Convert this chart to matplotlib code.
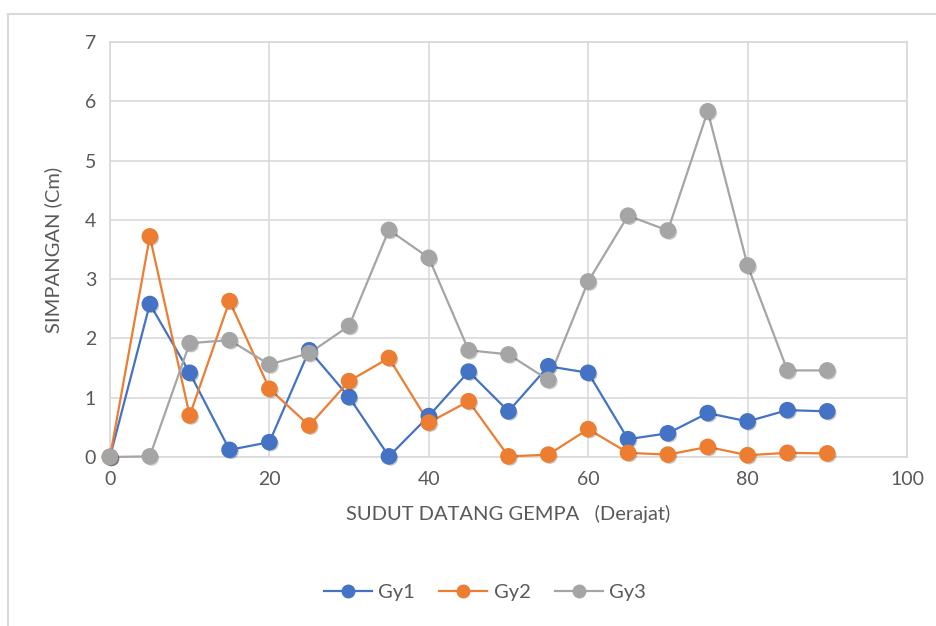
import matplotlib.pyplot as plt
import matplotlib.patheffects as pe
from matplotlib.lines import Line2D

# sudut datang gempa (derajat)
sudut = [0, 5, 10, 15, 20, 25, 30, 35, 40, 45, 50, 55, 60, 65, 70, 75, 80, 85, 90]

# simpangan (cm)
gy1 = [0, 2.58, 1.42, 0.12, 0.25, 1.80, 1.01, 0.01, 0.69, 1.44, 0.77, 1.53, 1.42,
       0.30, 0.40, 0.74, 0.60, 0.79, 0.77]
gy2 = [0, 3.72, 0.70, 2.63, 1.15, 0.53, 1.28, 1.67, 0.58, 0.94, 0.01, 0.04, 0.47,
       0.07, 0.04, 0.17, 0.03, 0.07, 0.06]
gy3 = [0, 0.01, 1.92, 1.97, 1.56, 1.75, 2.21, 3.83, 3.36, 1.80, 1.73, 1.30, 2.96,
       4.07, 3.82, 5.83, 3.23, 1.46, 1.46]

labels = ['Gy1', 'Gy2', 'Gy3']
colors = ['#4472C4', '#ED7D31', '#A5A5A5']

plt.rcParams['font.family'] = ['Lato', 'DejaVu Sans']
text_color = '#595959'

fig = plt.figure(figsize=(9.36, 6.26), dpi=100)
ax = fig.add_axes([0.1175, 0.270, 0.8515, 0.663])

# soft drop shadow on the markers only
shadow = [pe.SimplePatchShadow(offset=(1.2, -1.2), shadow_rgbFace='black', alpha=0.22),
          pe.Normal()]

for data, lab, col in zip([gy1, gy2, gy3], labels, colors):
    ax.plot(sudut, data, color=col, lw=1.6, zorder=3, clip_on=False)
    ax.scatter(sudut, data, s=120, color=col, zorder=4, clip_on=False,
               path_effects=shadow)

ax.set_xlim(0, 100)
ax.set_ylim(0, 7)
ax.set_xticks(range(0, 101, 20))
ax.set_yticks(range(0, 8))
ax.grid(True, color='#D9D9D9', lw=1.2)
ax.set_axisbelow(True)
for s in ax.spines.values():
    s.set_color('#D9D9D9')
    s.set_linewidth(1.2)
ax.tick_params(length=0, labelsize=14, colors=text_color, pad=10)

ax.set_xlabel('SUDUT DATANG GEMPA   (Derajat)', fontsize=14.5, color=text_color,
              labelpad=12)
ax.set_ylabel('SIMPANGAN (Cm)', fontsize=14.5, color=text_color, labelpad=16)

handles = [Line2D([0], [0], color=c, lw=1.6, marker='o', markersize=9,
                  markeredgecolor=c) for c in colors]
fig.legend(handles, labels, loc='center', bbox_to_anchor=(0.518, 0.053), ncol=3,
           frameon=False, fontsize=14.5, labelcolor=text_color, handlelength=2.4,
           columnspacing=1.2, handletextpad=0.3)

# chart area border
fig.add_artist(Line2D([8 / 936, 1], [1 - 14 / 626, 1 - 14 / 626],
                      transform=fig.transFigure, color='#D9D9D9', lw=1.5))
fig.add_artist(Line2D([8 / 936, 8 / 936], [0, 1 - 14 / 626],
                      transform=fig.transFigure, color='#D9D9D9', lw=1.5))

fig.savefig('out.png', dpi=100)
